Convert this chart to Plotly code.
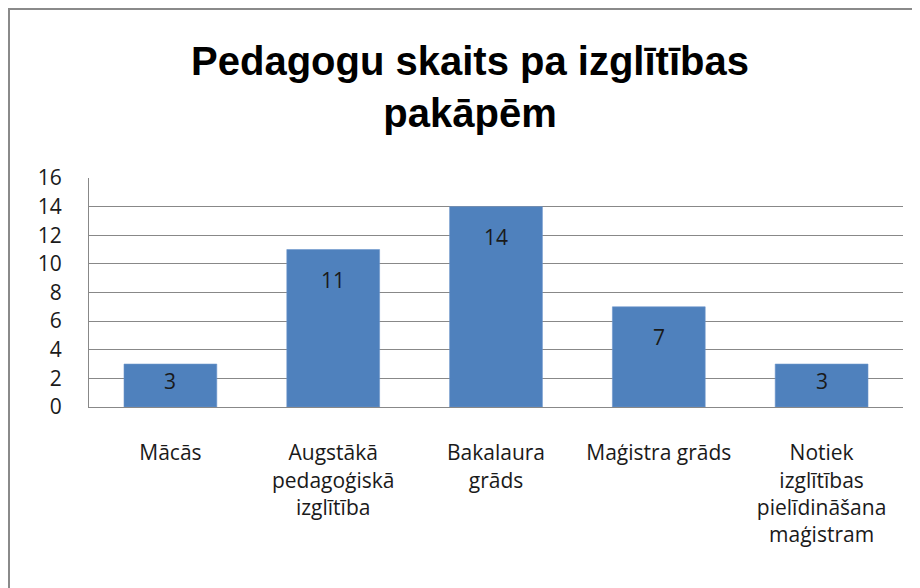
import plotly.graph_objects as go

categories = ["Mācās", "Augstākā<br>pedagoģiskā<br>izglītība", "Bakalaura<br>grāds",
              "Maģistra grāds", "Notiek<br>izglītības<br>pielīdināšana<br>maģistram"]
values = [3, 11, 14, 7, 3]
y_ticks = [0, 2, 4, 6, 8, 10, 12, 14, 16]
title_text = "Pedagogu skaits pa izglītības<br>pakāpēm"

W, H = 920, 588
ML, MR, MT, MB = 81, 25, 170, 189
plot_w = W - ML - MR
plot_h = H - MT - MB
y_max = 16
px_per_unit = plot_h / y_max

FONT = "Open Sans, Liberation Sans, sans-serif"
TXT = "#1a1a1a"
GRID = "#888888"
FS = 21

fig = go.Figure()
fig.add_trace(go.Bar(
    x=list(range(len(categories))), y=values,
    marker=dict(color="#4F81BD", line=dict(color="#6B96CB", width=0.6)),
    hoverinfo="skip",
))

for i, v in enumerate(values):
    shift = -min(30, 0.4 * v * px_per_unit)
    fig.add_annotation(x=i, y=v, xref="x", yref="y", text=str(v), showarrow=False,
                       yanchor="middle", yshift=shift,
                       font=dict(family=FONT, size=FS, color=TXT))

# outer chart border
fig.add_shape(type="rect", xref="paper", yref="paper",
              x0=(1 - ML) / plot_w, x1=(907 - ML) / plot_w,
              y0=-1.2, y1=(H - MB - 1) / plot_h,
              line=dict(color="#8a8a8a", width=2), fillcolor="rgba(0,0,0,0)", layer="below")

fig.update_layout(
    width=W, height=H,
    margin=dict(l=ML, r=MR, t=MT, b=MB, pad=0),
    paper_bgcolor="white", plot_bgcolor="white",
    showlegend=False,
    bargap=0.43,
    title=dict(text=title_text, x=462 / W, xanchor="center", xref="container",
               y=1 - 67 / H, yanchor="top", yref="container",
               font=dict(family="Liberation Sans, Arial, sans-serif", size=40, color="black",
                         weight="bold")),
    font=dict(family=FONT, color=TXT),
)
fig.update_xaxes(
    tickmode="array", tickvals=list(range(len(categories))), ticktext=categories,
    range=[-0.5, len(categories) - 0.5],
    showline=True, linecolor=GRID, linewidth=1, showgrid=False,
    ticks="", ticklabelstandoff=27,
    tickfont=dict(family=FONT, size=FS, color=TXT), tickangle=0,
)
fig.update_yaxes(
    range=[0, y_max], tickmode="array", tickvals=y_ticks,
    showline=True, linecolor=GRID, linewidth=1,
    showgrid=True, gridcolor=GRID, gridwidth=1, zeroline=False,
    ticks="", ticklabelstandoff=22,
    tickfont=dict(family=FONT, size=FS, color=TXT),
)

fig.write_html("out.html")
